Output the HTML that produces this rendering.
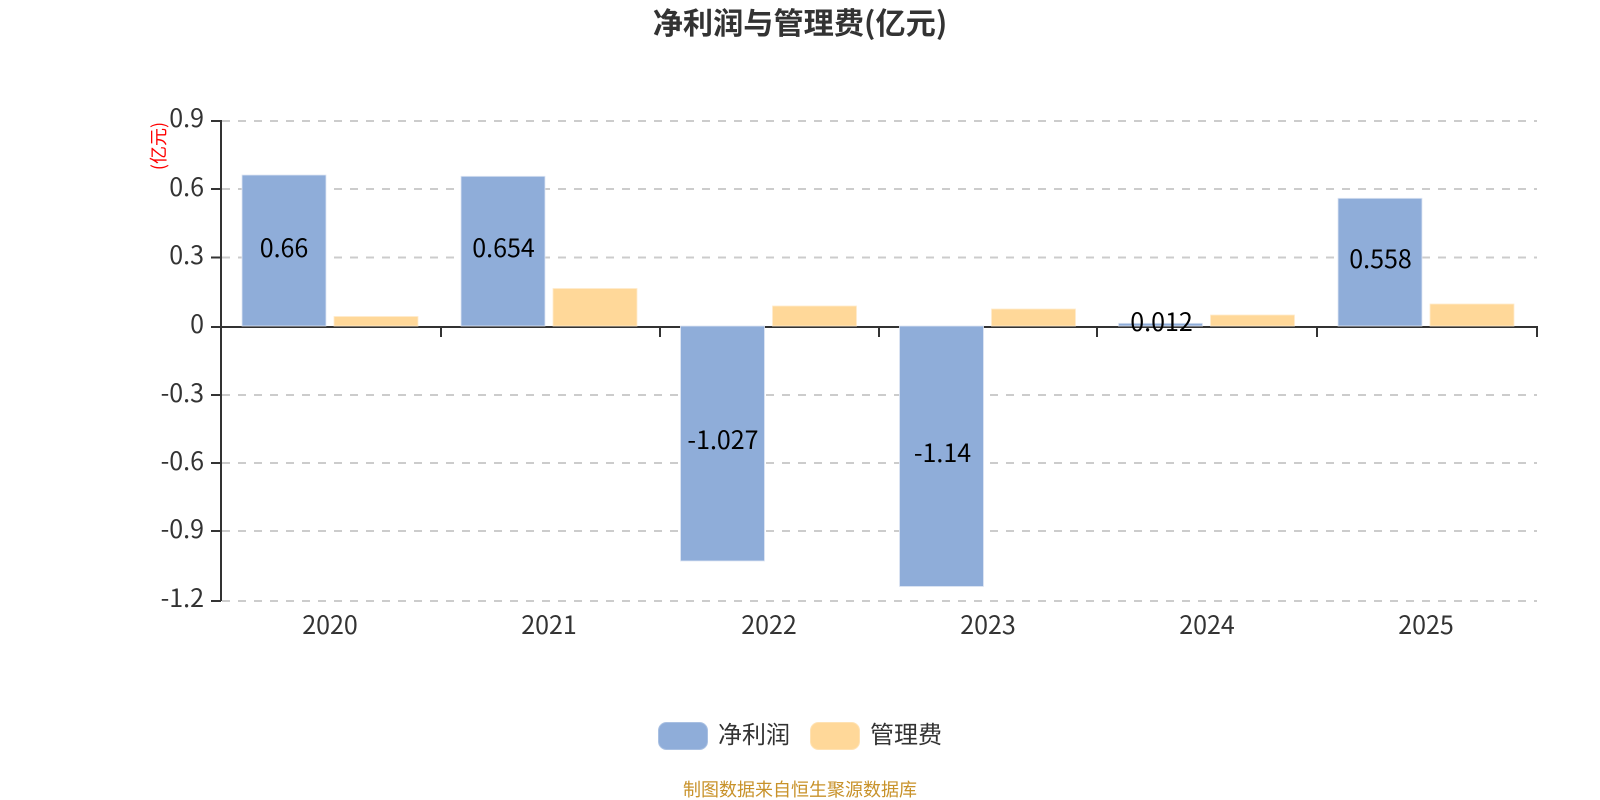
<!DOCTYPE html>
<html lang="zh"><head><meta charset="utf-8"><title>净利润与管理费</title>
<style>html,body{margin:0;padding:0;background:#fff;width:1600px;height:800px;overflow:hidden}svg{display:block}text{font-family:"Liberation Sans","Noto Sans CJK SC",sans-serif}.n{font-family:"Noto Sans CJK SC","Liberation Sans",sans-serif}</style></head>
<body>
<svg width="1600" height="800" viewBox="0 0 1600 800" xmlns="http://www.w3.org/2000/svg">
<rect width="1600" height="800" fill="#fff"/>
<text class="n" x="800" y="34" text-anchor="middle" font-size="30.200" font-weight="700" fill="#333">净利润与管理费(亿元)</text>
<g stroke="#ccc" stroke-width="2" stroke-dasharray="8 8" fill="none">
<path d="M222 121H1537M222 189H1537M222 257.500H1537M222 395H1537M222 463H1537M222 531H1537M222 601H1537"/>
</g>
<g stroke="#333" stroke-width="2" fill="none">
<path d="M221 120V601"/>
<path d="M211 121H221M211 189H221M211 257.500H221M211 327H221M211 395H221M211 463H221M211 531H221M211 601H221"/>
<path d="M211 327H1538"/>
<path d="M441 327V337M660 327V337M879 327V337M1097 327V337M1317 327V337M1537 327V337"/>
</g>
<g fill="#8fadd9" stroke="#dfe7f4" stroke-width="0.800">
<rect x="242" y="175" width="84" height="151"/>
<rect x="461" y="176.300" width="84" height="149.700"/>
<rect x="680.500" y="326" width="84" height="235"/>
<rect x="899.500" y="326" width="84" height="260.500"/>
<rect x="1118.500" y="323.300" width="84" height="2.700"/>
<rect x="1338" y="198.300" width="84" height="127.700"/>
</g>
<g fill="#ffd899" stroke="#ffeccd" stroke-width="0.800">
<rect x="334" y="316.500" width="84" height="9.500"/>
<rect x="553" y="288.500" width="84" height="37.500"/>
<rect x="772.500" y="306" width="84" height="20"/>
<rect x="991.500" y="309" width="84" height="17"/>
<rect x="1210.500" y="315" width="84" height="11"/>
<rect x="1430" y="304" width="84" height="22"/>
</g>
<g class="n" font-size="25" fill="#333" text-anchor="end">
<text class="n" x="204" y="127">0.9</text>
<text class="n" x="204" y="196">0.6</text>
<text class="n" x="204" y="264">0.3</text>
<text class="n" x="204" y="333">0</text>
<text class="n" x="204" y="402">-0.3</text>
<text class="n" x="204" y="470">-0.6</text>
<text class="n" x="204" y="538">-0.9</text>
<text class="n" x="204" y="607">-1.2</text>
</g>
<g font-size="25" fill="#333" text-anchor="middle">
<text class="n" x="330" y="634">2020</text>
<text class="n" x="549" y="634">2021</text>
<text class="n" x="769" y="634">2022</text>
<text class="n" x="988" y="634">2023</text>
<text class="n" x="1207" y="634">2024</text>
<text class="n" x="1426" y="634">2025</text>
</g>
<g font-size="25" fill="#000" text-anchor="middle">
<text class="n" x="284" y="257">0.66</text>
<text class="n" x="503.500" y="257">0.654</text>
<text class="n" x="723" y="449">-1.027</text>
<text class="n" x="942.500" y="462">-1.14</text>
<text class="n" x="1161.500" y="331">0.012</text>
<text class="n" x="1380.500" y="268">0.558</text>
</g>
<text class="n" transform="translate(165 146) rotate(-90)" font-size="18" fill="#f00" text-anchor="middle">(亿元)</text>
<rect x="658.500" y="722.500" width="49" height="27" rx="8" fill="#8fadd9" stroke="#a9c0e2"/>
<text class="n" x="718" y="743" font-size="24" fill="#333">净利润</text>
<rect x="810.500" y="722.500" width="49" height="27" rx="8" fill="#ffd899" stroke="#ffe2b3"/>
<text class="n" x="870" y="743" font-size="24" fill="#333">管理费</text>
<text class="n" x="800" y="796" font-size="18" fill="#c8922a" text-anchor="middle">制图数据来自恒生聚源数据库</text>
</svg>
</body></html>
